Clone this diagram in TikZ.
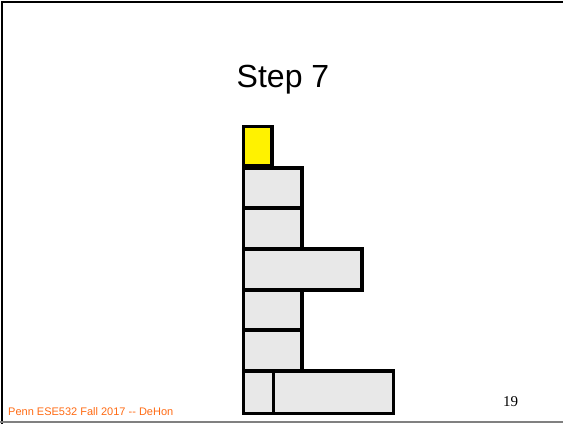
\documentclass[tikz,border=0pt]{standalone}
\usepackage{fontspec}
\setmainfont{Liberation Serif}
\newfontfamily\slidefont{Liberation Sans}
\usetikzlibrary{positioning}
\definecolor{cellgray}{HTML}{E8E8E8}
\definecolor{pennorange}{HTML}{FF6A13}

\begin{document}
\begin{tikzpicture}[x=1pt,y=-1pt,
  cell/.style={draw=black,line width=3.4pt,fill=cellgray,inner sep=0pt,outer sep=0pt,anchor=north west},
  active/.style={cell,fill=yellow}]
\useasboundingbox (0,0) rectangle (563,424);
% slide frame
\draw[line width=2.5pt] (2,424) -- (2,2) -- (563,2);
\draw[gray,line width=2pt] (0,422) -- (563,422);

\node[font=\slidefont\fontsize{32}{36}\selectfont] (title) at (283,80) {Step 7};

\node[active,minimum width=28.6pt,minimum height=39pt] (y) at (243.2,126.5) {};
\node[cell,minimum width=58.6pt,minimum height=40pt] (r1) at (243.2,168) {};
\node[cell,minimum width=58.6pt,minimum height=41pt] (r2) at (243.2,208) {};
\node[cell,minimum width=118.6pt,minimum height=41pt] (r3) at (243.2,249) {};
\node[cell,minimum width=58.6pt,minimum height=40pt] (r4) at (243.2,290) {};
\node[cell,minimum width=58.6pt,minimum height=41pt] (r5) at (243.2,330) {};
\node[cell,minimum width=30.1pt,minimum height=42.5pt] (r6a) at (243.2,371) {};
\node[cell,minimum width=120.2pt,minimum height=42.5pt] (r6b) at (273.3,371) {};

\node[font=\slidefont\fontsize{11}{13}\selectfont,text=pennorange,anchor=base west,inner sep=0pt] (foot) at (8,415) {Penn ESE532 Fall 2017 -- DeHon};
\node[font=\fontsize{15}{18}\selectfont,anchor=base,inner sep=0pt] (page) at (510.5,406) {19};
\end{tikzpicture}
\end{document}
